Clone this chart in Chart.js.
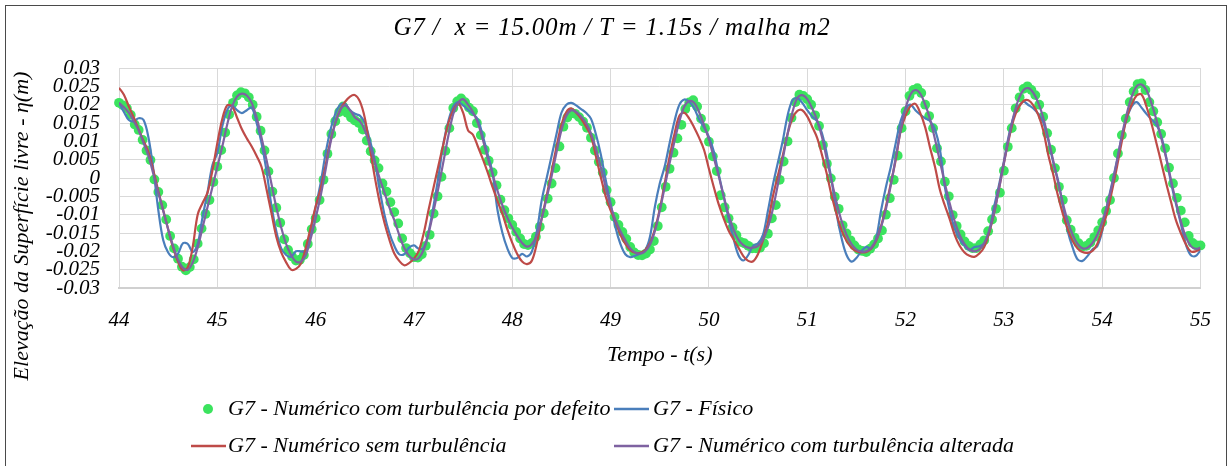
<!DOCTYPE html>
<html>
<head>
<meta charset="utf-8">
<script src="https://cdn.jsdelivr.net/npm/chart.js@4.4.0/dist/chart.umd.min.js"></script>
<style>
  html, body { margin: 0; padding: 0; background: #ffffff; }
  #wrap { position: relative; width: 1231px; height: 466px; }
  canvas { display: block; }
</style>
</head>
<body>
<div id="wrap"><canvas id="chart" width="1231" height="466"></canvas></div>
<script>
// Time grid: dots every 0.04 s, lines every 0.05 s, starting at t = 44 s
const T0 = 44;
const DOT_STEP = 0.04;
const LINE_STEP = 0.05;

const xTicks = [44, 45, 46, 47, 48, 49, 50, 51, 52, 53, 54, 55];
const yTicks = [0.03, 0.025, 0.02, 0.015, 0.01, 0.005, 0, -0.005, -0.01, -0.015, -0.02, -0.025, -0.03];

const chartTitle = 'G7 /  x = 15.00m / T = 1.15s / malha m2';
const xTitle = 'Tempo - t(s)';
const yTitle = 'Elevação da Superfície livre - η(m)';

const seriesNames = [
  'G7 - Numérico com turbulência por defeito',
  'G7 - Físico',
  'G7 - Numérico sem turbulência',
  'G7 - Numérico com turbulência alterada'
];

// Numérico com turbulência por defeito (one row per second, 0.04 s apart)
const etaDefeito = [
  0.0205, 0.0198, 0.0190, 0.0172, 0.0146, 0.0131, 0.0104, 0.0075, 0.0049, -0.0004, -0.0038, -0.0074, -0.0113, -0.0158, -0.0192, -0.0220, -0.0242, -0.0252, -0.0243, -0.0222, -0.0179, -0.0138, -0.0098, -0.0060, -0.0011,
  0.0031, 0.0076, 0.0124, 0.0173, 0.0205, 0.0225, 0.0234, 0.0231, 0.0220, 0.0200, 0.0167, 0.0129, 0.0075, 0.0018, -0.0037, -0.0081, -0.0122, -0.0167, -0.0196, -0.0214, -0.0225, -0.0223, -0.0210, -0.0180, -0.0140,
  -0.0110, -0.0060, -0.0005, 0.0066, 0.0120, 0.0155, 0.0180, 0.0195, 0.0178, 0.0165, 0.0157, 0.0150, 0.0132, 0.0102, 0.0073, 0.0048, 0.0027, -0.0015, -0.0037, -0.0066, -0.0093, -0.0124, -0.0165, -0.0191, -0.0205,
  -0.0216, -0.0217, -0.0208, -0.0185, -0.0155, -0.0097, -0.0050, 0.0003, 0.0074, 0.0136, 0.0191, 0.0209, 0.0217, 0.0207, 0.0192, 0.0182, 0.0150, 0.0117, 0.0077, 0.0047, 0.0015, -0.0020, -0.0059, -0.0088, -0.0110,
  -0.0128, -0.0147, -0.0165, -0.0180, -0.0183, -0.0177, -0.0160, -0.0133, -0.0096, -0.0056, -0.0015, 0.0027, 0.0086, 0.0140, 0.0165, 0.0178, 0.0175, 0.0166, 0.0154, 0.0137, 0.0110, 0.0075, 0.0044, 0.0015, -0.0033,
  -0.0066, -0.0106, -0.0128, -0.0147, -0.0166, -0.0188, -0.0203, -0.0210, -0.0211, -0.0206, -0.0195, -0.0172, -0.0131, -0.0080, -0.0024, 0.0025, 0.0069, 0.0108, 0.0145, 0.0188, 0.0206, 0.0212, 0.0195, 0.0162, 0.0136,
  0.0099, 0.0059, 0.0019, -0.0047, -0.0080, -0.0110, -0.0135, -0.0156, -0.0174, -0.0178, -0.0185, -0.0192, -0.0192, -0.0190, -0.0178, -0.0152, -0.0110, -0.0074, -0.0005, 0.0045, 0.0100, 0.0164, 0.0207, 0.0227, 0.0224,
  0.0215, 0.0200, 0.0171, 0.0142, 0.0090, 0.0039, -0.0001, -0.0051, -0.0084, -0.0129, -0.0151, -0.0170, -0.0184, -0.0195, -0.0199, -0.0202, -0.0193, -0.0181, -0.0165, -0.0143, -0.0100, -0.0055, -0.0005, 0.0061, 0.0136,
  0.0182, 0.0224, 0.0240, 0.0245, 0.0232, 0.0200, 0.0169, 0.0136, 0.0081, 0.0045, -0.0010, -0.0050, -0.0101, -0.0131, -0.0154, -0.0173, -0.0185, -0.0191, -0.0191, -0.0181, -0.0170, -0.0145, -0.0113, -0.0084, -0.0040,
  0.0020, 0.0085, 0.0136, 0.0190, 0.0220, 0.0243, 0.0250, 0.0240, 0.0226, 0.0200, 0.0167, 0.0122, 0.0077, 0.0027, -0.0024, -0.0060, -0.0115, -0.0141, -0.0163, -0.0178, -0.0187, -0.0185, -0.0176, -0.0161, -0.0143,
  -0.0121, -0.0090, -0.0060, 0.0000, 0.0067, 0.0117, 0.0162, 0.0207, 0.0236, 0.0256, 0.0258, 0.0240, 0.0207, 0.0182, 0.0152, 0.0120, 0.0081, 0.0028, -0.0015, -0.0054, -0.0089, -0.0121, -0.0158, -0.0177, -0.0184,
  -0.0184
];

// Físico (one row per second, 0.05 s apart)
const etaFisico = [
  0.0205, 0.0180, 0.0158, 0.0155, 0.0163, 0.0158, 0.0110, 0.0022, -0.0088, -0.0170, -0.0203, -0.0216, -0.0206, -0.0178, -0.0180, -0.0202, -0.0180, -0.0106, -0.0040, 0.0035,
  0.0068, 0.0140, 0.0185, 0.0198, 0.0185, 0.0177, 0.0185, 0.0192, 0.0150, 0.0095, 0.0020, -0.0075, -0.0145, -0.0192, -0.0210, -0.0215, -0.0200, -0.0200, -0.0200, -0.0145,
  -0.0080, -0.0015, 0.0065, 0.0130, 0.0175, 0.0200, 0.0202, 0.0185, 0.0175, 0.0170, 0.0150, 0.0105, 0.0049, -0.0030, -0.0100, -0.0150, -0.0185, -0.0208, -0.0208, -0.0190,
  -0.0184, -0.0193, -0.0190, -0.0145, -0.0075, 0.0005, 0.0095, 0.0155, 0.0195, 0.0207, 0.0198, 0.0186, 0.0175, 0.0159, 0.0115, 0.0065, 0.0013, -0.0088, -0.0150, -0.0192,
  -0.0218, -0.0218, -0.0207, -0.0214, -0.0200, -0.0145, -0.0060, 0.0000, 0.0060, 0.0120, 0.0178, 0.0200, 0.0205, 0.0198, 0.0188, 0.0178, 0.0162, 0.0120, 0.0065, -0.0005,
  -0.0070, -0.0135, -0.0180, -0.0208, -0.0216, -0.0212, -0.0206, -0.0198, -0.0161, -0.0079, -0.0015, 0.0031, 0.0095, 0.0155, 0.0200, 0.0214, 0.0208, 0.0190, 0.0160, 0.0138,
  0.0112, 0.0072, 0.0010, -0.0050, -0.0110, -0.0165, -0.0210, -0.0225, -0.0210, -0.0185, -0.0178, -0.0155, -0.0090, -0.0020, 0.0040, 0.0100, 0.0170, 0.0212, 0.0218, 0.0205,
  0.0185, 0.0168, 0.0155, 0.0122, 0.0065, -0.0010, -0.0100, -0.0165, -0.0210, -0.0228, -0.0218, -0.0200, -0.0188, -0.0193, -0.0165, -0.0090, -0.0025, 0.0030, 0.0095, 0.0155,
  0.0188, 0.0200, 0.0185, 0.0173, 0.0163, 0.0155, 0.0132, 0.0077, -0.0025, -0.0090, -0.0138, -0.0167, -0.0185, -0.0197, -0.0188, -0.0186, -0.0178, -0.0145, -0.0079, -0.0020,
  0.0045, 0.0115, 0.0168, 0.0195, 0.0208, 0.0199, 0.0190, 0.0175, 0.0152, 0.0105, 0.0045, -0.0005, -0.0075, -0.0145, -0.0190, -0.0222, -0.0226, -0.0213, -0.0195, -0.0186,
  -0.0145, -0.0075, -0.0015, 0.0048, 0.0113, 0.0162, 0.0195, 0.0207, 0.0192, 0.0175, 0.0160, 0.0146, 0.0115, 0.0058, -0.0012, -0.0070, -0.0125, -0.0180, -0.0210, -0.0213,
  -0.0197
];

// Numérico sem turbulência (one row per second, 0.05 s apart)
const etaSemTurb = [
  0.0246, 0.0227, 0.0195, 0.0165, 0.0132, 0.0101, 0.0070, 0.0020, -0.0036, -0.0088, -0.0140, -0.0190, -0.0228, -0.0252, -0.0243, -0.0188, -0.0100, -0.0068, -0.0040, 0.0020,
  0.0095, 0.0160, 0.0198, 0.0195, 0.0165, 0.0133, 0.0108, 0.0086, 0.0060, 0.0030, -0.0030, -0.0095, -0.0160, -0.0203, -0.0230, -0.0250, -0.0248, -0.0233, -0.0190, -0.0135,
  -0.0078, -0.0030, 0.0033, 0.0100, 0.0150, 0.0186, 0.0208, 0.0222, 0.0226, 0.0209, 0.0164, 0.0085, 0.0005, -0.0065, -0.0122, -0.0168, -0.0206, -0.0226, -0.0238, -0.0232,
  -0.0220, -0.0198, -0.0150, -0.0085, -0.0025, 0.0035, 0.0093, 0.0150, 0.0185, 0.0203, 0.0178, 0.0130, 0.0118, 0.0086, 0.0052, 0.0015, -0.0025, -0.0063, -0.0098, -0.0140,
  -0.0177, -0.0207, -0.0228, -0.0235, -0.0225, -0.0178, -0.0110, -0.0048, 0.0018, 0.0085, 0.0145, 0.0180, 0.0190, 0.0178, 0.0162, 0.0140, 0.0115, 0.0060, 0.0003, -0.0050,
  -0.0088, -0.0118, -0.0155, -0.0180, -0.0197, -0.0204, -0.0204, -0.0197, -0.0178, -0.0140, -0.0085, -0.0015, 0.0058, 0.0120, 0.0170, 0.0178, 0.0162, 0.0138, 0.0110, 0.0077,
  0.0025, -0.0025, -0.0072, -0.0110, -0.0143, -0.0167, -0.0190, -0.0213, -0.0226, -0.0227, -0.0207, -0.0170, -0.0122, -0.0051, 0.0005, 0.0060, 0.0120, 0.0163, 0.0183, 0.0185,
  0.0168, 0.0140, 0.0110, 0.0063, 0.0010, -0.0050, -0.0100, -0.0143, -0.0172, -0.0190, -0.0200, -0.0203, -0.0202, -0.0192, -0.0172, -0.0132, -0.0078, -0.0015, 0.0049, 0.0128,
  0.0170, 0.0196, 0.0202, 0.0177, 0.0138, 0.0082, 0.0030, -0.0033, -0.0075, -0.0113, -0.0155, -0.0185, -0.0203, -0.0212, -0.0215, -0.0206, -0.0188, -0.0150, -0.0097, -0.0030,
  0.0040, 0.0105, 0.0160, 0.0192, 0.0210, 0.0212, 0.0198, 0.0172, 0.0130, 0.0065, 0.0012, -0.0048, -0.0098, -0.0140, -0.0172, -0.0192, -0.0202, -0.0204, -0.0199, -0.0180,
  -0.0140, -0.0095, -0.0035, 0.0030, 0.0100, 0.0165, 0.0200, 0.0225, 0.0228, 0.0195, 0.0150, 0.0097, 0.0043, -0.0013, -0.0065, -0.0115, -0.0150, -0.0180, -0.0200, -0.0200,
  -0.0193
];

// Numérico com turbulência alterada (one row per second, 0.05 s apart)
const etaAlterada = [
  0.0205, 0.0193, 0.0178, 0.0155, 0.0130, 0.0095, 0.0060, 0.0010, -0.0040, -0.0090, -0.0140, -0.0185, -0.0222, -0.0245, -0.0250, -0.0230, -0.0190, -0.0135, -0.0080, -0.0025,
  0.0030, 0.0085, 0.0145, 0.0195, 0.0222, 0.0230, 0.0225, 0.0205, 0.0165, 0.0110, 0.0050, -0.0015, -0.0080, -0.0135, -0.0180, -0.0210, -0.0228, -0.0228, -0.0210, -0.0165,
  -0.0110, -0.0050, 0.0020, 0.0095, 0.0150, 0.0185, 0.0198, 0.0185, 0.0165, 0.0155, 0.0130, 0.0090, 0.0045, 0.0000, -0.0040, -0.0080, -0.0115, -0.0155, -0.0190, -0.0212,
  -0.0222, -0.0218, -0.0195, -0.0150, -0.0090, -0.0025, 0.0045, 0.0115, 0.0175, 0.0205, 0.0215, 0.0200, 0.0180, 0.0150, 0.0105, 0.0055, 0.0010, -0.0035, -0.0075, -0.0108,
  -0.0135, -0.0158, -0.0177, -0.0187, -0.0180, -0.0155, -0.0110, -0.0055, 0.0005, 0.0070, 0.0130, 0.0170, 0.0185, 0.0180, 0.0168, 0.0150, 0.0122, 0.0080, 0.0030, -0.0025,
  -0.0075, -0.0115, -0.0145, -0.0170, -0.0192, -0.0203, -0.0206, -0.0200, -0.0182, -0.0145, -0.0090, -0.0025, 0.0040, 0.0100, 0.0155, 0.0195, 0.0210, 0.0205, 0.0180, 0.0145,
  0.0105, 0.0055, 0.0005, -0.0050, -0.0100, -0.0140, -0.0168, -0.0183, -0.0190, -0.0190, -0.0185, -0.0168, -0.0135, -0.0085, -0.0020, 0.0050, 0.0120, 0.0180, 0.0218, 0.0226,
  0.0215, 0.0190, 0.0158, 0.0112, 0.0050, -0.0010, -0.0068, -0.0118, -0.0155, -0.0180, -0.0195, -0.0201, -0.0200, -0.0190, -0.0170, -0.0135, -0.0085, -0.0020, 0.0055, 0.0130,
  0.0190, 0.0228, 0.0240, 0.0230, 0.0200, 0.0160, 0.0105, 0.0045, -0.0015, -0.0070, -0.0118, -0.0155, -0.0180, -0.0195, -0.0200, -0.0195, -0.0178, -0.0145, -0.0095, -0.0030,
  0.0040, 0.0110, 0.0170, 0.0215, 0.0240, 0.0245, 0.0232, 0.0205, 0.0165, 0.0110, 0.0050, -0.0010, -0.0068, -0.0118, -0.0155, -0.0180, -0.0192, -0.0190, -0.0178, -0.0155,
  -0.0120, -0.0075, -0.0020, 0.0045, 0.0115, 0.0175, 0.0222, 0.0250, 0.0255, 0.0240, 0.0205, 0.0160, 0.0110, 0.0055, -0.0005, -0.0065, -0.0118, -0.0160, -0.0185, -0.0193,
  -0.0190
];

const COLORS = {
  defeito: '#3be35e',
  fisico: '#4a7ebb',
  semTurb: '#be4b48',
  alterada: '#7e62a1'
};

const FONT = '"Liberation Serif", "DejaVu Serif", serif';

function toPoints(values, step) {
  return values.map((v, i) => ({ x: +(T0 + i * step).toFixed(3), y: v }));
}

// Title, axis titles, legend and outer frame
const decorations = {
  id: 'decorations',
  beforeDraw(chart) {
    const ctx = chart.ctx;
    ctx.save();
    ctx.fillStyle = '#ffffff';
    ctx.fillRect(0, 0, chart.width, chart.height);
    ctx.restore();
  },
  afterDraw(chart) {
    const ctx = chart.ctx;
    const area = chart.chartArea;
    ctx.save();

    ctx.strokeStyle = '#4a4a4a';
    ctx.lineWidth = 1;
    ctx.strokeRect(5.5, 5.5, 1221, 480);

    ctx.fillStyle = '#000000';
    ctx.textBaseline = 'middle';
    ctx.textAlign = 'center';
    ctx.font = 'italic 25px ' + FONT;
    ctx.letterSpacing = '0.8px';
    ctx.fillText(chartTitle, 612, 28);
    ctx.letterSpacing = '0px';

    ctx.font = 'italic 22px ' + FONT;
    ctx.fillText(xTitle, (area.left + area.right) / 2, 355);

    ctx.save();
    ctx.translate(22, 226);
    ctx.rotate(-Math.PI / 2);
    ctx.fillText(yTitle, 0, 0);
    ctx.restore();

    // legend: two columns, two rows
    const ds = chart.data.datasets;
    const slots = [
      { i: 0, sx: 191, tx: 228, y: 409 },
      { i: 1, sx: 614, tx: 653, y: 409 },
      { i: 2, sx: 191, tx: 228, y: 446 },
      { i: 3, sx: 614, tx: 653, y: 446 }
    ];
    ctx.textAlign = 'left';
    ctx.font = 'italic 22px ' + FONT;
    slots.forEach(s => {
      const d = ds[s.i];
      if (d.showLine === false) {
        ctx.fillStyle = d.pointBackgroundColor;
        ctx.beginPath();
        ctx.arc(s.sx + 17, s.y, 5, 0, Math.PI * 2);
        ctx.fill();
      } else {
        ctx.strokeStyle = d.borderColor;
        ctx.lineWidth = 2.5;
        ctx.beginPath();
        ctx.moveTo(s.sx, s.y);
        ctx.lineTo(s.sx + 35, s.y);
        ctx.stroke();
      }
      ctx.fillStyle = '#000000';
      ctx.fillText(d.label, s.tx, s.y);
    });

    ctx.restore();
  }
};

new Chart(document.getElementById('chart'), {
  type: 'scatter',
  data: {
    datasets: [
      {
        label: seriesNames[0],
        data: toPoints(etaDefeito, DOT_STEP),
        showLine: false,
        pointRadius: 4.9,
        pointBorderWidth: 0,
        pointBackgroundColor: COLORS.defeito,
        pointBorderColor: COLORS.defeito,
        clip: false,
        order: 4
      },
      {
        label: seriesNames[1],
        data: toPoints(etaFisico, LINE_STEP),
        showLine: true,
        borderColor: COLORS.fisico,
        borderWidth: 2.2,
        pointRadius: 0,
        tension: 0.35,
        order: 3
      },
      {
        label: seriesNames[2],
        data: toPoints(etaSemTurb, LINE_STEP),
        showLine: true,
        borderColor: COLORS.semTurb,
        borderWidth: 2.2,
        pointRadius: 0,
        tension: 0.35,
        order: 2
      },
      {
        label: seriesNames[3],
        data: toPoints(etaAlterada, LINE_STEP),
        showLine: true,
        borderColor: COLORS.alterada,
        borderWidth: 2.2,
        pointRadius: 0,
        tension: 0.35,
        order: 1
      }
    ]
  },
  options: {
    responsive: false,
    animation: false,
    devicePixelRatio: 1,
    layout: { padding: { left: 0, right: 21, top: 68, bottom: 0 } },
    plugins: {
      legend: { display: false },
      title: { display: false },
      tooltip: { enabled: false }
    },
    scales: {
      x: {
        type: 'linear',
        min: 44,
        max: 55,
        afterFit(scale) { scale.height = 178; },
        afterBuildTicks(scale) { scale.ticks = xTicks.map(v => ({ value: v })); },
        grid: { color: '#d9d9d9', lineWidth: 1, drawTicks: false },
        border: { color: '#d0d0d0', width: 2 },
        ticks: {
          autoSkip: false,
          maxRotation: 0,
          padding: 20,
          color: '#000000',
          font: { family: FONT, size: 21, style: 'italic' },
          callback: v => String(v)
        }
      },
      y: {
        min: -0.03,
        max: 0.03,
        afterFit(scale) { scale.width = 119; },
        afterBuildTicks(scale) { scale.ticks = yTicks.map(v => ({ value: v })); },
        grid: { color: '#d9d9d9', lineWidth: 1, drawTicks: false },
        border: { display: false },
        ticks: {
          autoSkip: false,
          padding: 19,
          color: '#000000',
          font: { family: FONT, size: 21, style: 'italic' },
          callback: v => String(Number(v.toFixed(3)))
        }
      }
    }
  },
  plugins: [decorations]
});
</script>
</body>
</html>
